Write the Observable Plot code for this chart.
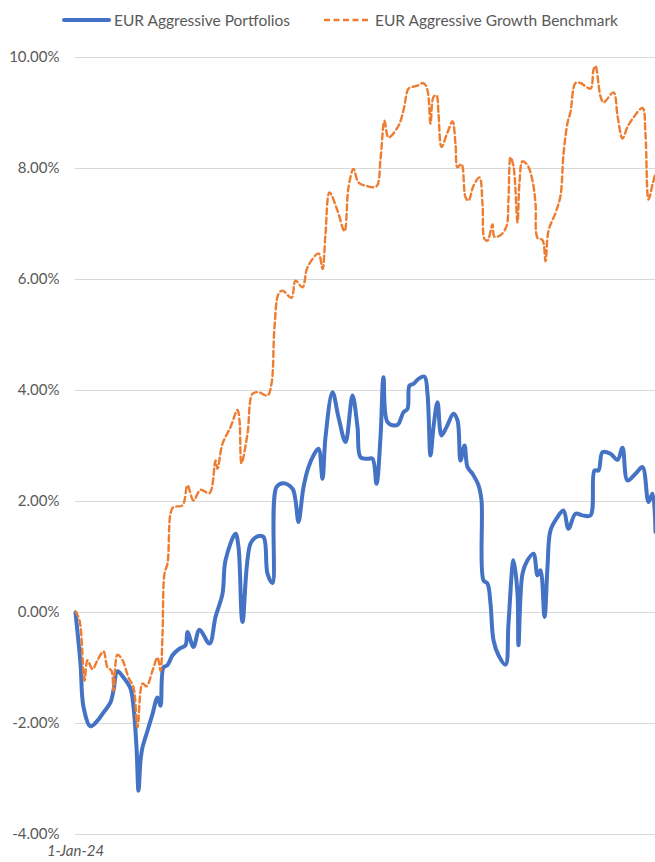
<!DOCTYPE html>
<html><head><meta charset="utf-8">
<script src="https://cdn.jsdelivr.net/npm/d3@7"></script>
<script src="https://cdn.jsdelivr.net/npm/@observablehq/plot@0.6"></script>
<style>
body{margin:0;background:#fff;font-family:Lato,"Open Sans",sans-serif;}
#legend{height:40px;position:relative;font-size:15.5px;color:#595959;}
.item{position:absolute;top:0;height:40px;display:flex;align-items:center;white-space:nowrap;}
.item svg{margin-right:3px;}
</style></head><body>
<div id="legend"></div>
<div id="chart"></div>
<script>
const startDate = "2024-01-01";
const xTickLabels = ["1-Jan-24"];
const yTicks = [-4, -2, 0, 2, 4, 6, 8, 10];
const seriesNames = ["EUR Aggressive Portfolios", "EUR Aggressive Growth Benchmark"];
const seriesColors = ["#4472C4", "#ED7D31"];
const lastDay = 580;

// days since 1-Jan-24, cumulative return (%)
const portfolioDays = [0,5,8,15,22,28,35,38,42,48,55,58,61,63,65,67,72,77,82,85,88,92,97,104,110,112,118,124,134,140,147,150,160,163,167,175,182,188,192,197,201,208,217,220,223,228,233,238,243,247,250,257,263,270,277,282,285,292,297,301,305,308,312,320,323,328,332,334,338,343,349,352,355,358,362,366,371,378,382,385,389,392,397,403,406,408,412,415,418,423,430,433,438,442,443,447,452,458,462,465,469,472,475,482,488,493,500,507,515,519,523,527,535,542,547,552,560,567,573,577,580];
const portfolioValues = [0.00,-0.92,-1.70,-2.05,-1.95,-1.80,-1.62,-1.40,-1.06,-1.17,-1.37,-1.70,-2.43,-3.21,-2.67,-2.43,-2.13,-1.83,-1.53,-1.68,-0.99,-0.95,-0.77,-0.65,-0.59,-0.35,-0.62,-0.31,-0.56,-0.08,0.34,0.94,1.42,1.18,-0.17,1.24,1.37,1.36,0.70,0.53,2.26,2.33,2.23,2.02,1.63,2.26,2.62,2.83,2.95,2.41,3.16,3.97,3.52,3.07,3.91,3.34,2.80,2.77,2.77,2.32,3.16,4.24,3.43,3.37,3.40,3.61,3.67,4.09,4.12,4.21,4.25,3.94,2.83,3.34,3.79,3.19,3.34,3.58,3.46,2.74,3.01,2.62,2.50,2.29,2.02,0.58,0.52,0.16,-0.50,-0.77,-0.94,-0.20,0.94,0.34,-0.59,0.70,0.94,1.06,0.67,0.76,-0.08,0.82,1.48,1.72,1.84,1.51,1.78,1.75,1.75,2.56,2.56,2.89,2.86,2.75,2.97,2.38,2.50,2.62,1.99,2.14,1.45];

const benchmarkDays = [0,4,9,12,17,22,28,32,36,38,42,47,53,58,62,67,71,77,82,85,87,89,92,95,98,107,112,118,125,134,140,142,147,155,162,164,166,172,177,183,192,196,199,203,207,216,220,227,232,243,247,250,254,262,269,273,278,283,292,301,305,309,313,323,328,333,337,343,348,352,355,358,361,363,366,372,377,380,382,386,390,393,398,404,407,409,412,417,419,425,431,433,435,438,442,444,447,452,457,460,462,467,470,473,480,485,488,492,495,500,505,515,518,520,525,528,538,542,547,552,558,567,570,573,577,580];
const benchmarkValues = [0.02,-0.14,-1.23,-0.86,-1.02,-0.86,-0.70,-0.99,-1.05,-1.41,-0.76,-0.86,-1.17,-1.35,-2.07,-1.28,-1.33,-1.05,-0.81,-1.05,-0.40,0.70,0.88,1.78,1.90,1.93,2.29,2.02,2.21,2.15,2.74,2.59,3.04,3.34,3.65,3.46,2.69,3.22,3.94,3.97,3.91,4.12,5.14,5.74,5.80,5.67,5.98,5.86,6.22,6.47,6.19,6.82,7.57,7.24,6.87,7.66,7.99,7.75,7.68,7.68,8.17,8.86,8.56,8.77,9.05,9.44,9.47,9.50,9.54,9.41,8.81,9.29,9.32,8.99,8.39,8.65,8.85,8.44,8.02,8.08,7.48,7.42,7.69,7.84,7.36,6.73,6.70,6.99,6.77,6.80,6.96,7.45,8.20,8.04,7.03,7.75,8.13,8.06,7.78,7.37,6.75,6.71,6.33,6.88,7.20,7.51,8.26,8.82,9.02,9.54,9.54,9.44,9.78,9.85,9.30,9.19,9.37,8.95,8.54,8.75,8.92,9.09,8.61,7.44,7.71,7.92];

const start = new Date(startDate);
const toRows = (days, vals) => days.map((d, i) => ({date: d3.utcDay.offset(start, d), value: vals[i]}));
const portfolio = toRows(portfolioDays, portfolioValues);
const benchmark = toRows(benchmarkDays, benchmarkValues);

// legend
const legend = document.getElementById("legend");
const legendLeft = [62, 323];
seriesNames.forEach((name, i) => {
  const item = document.createElement("div");
  item.className = "item";
  item.style.left = legendLeft[i] + "px";
  const dash = i === 1 ? 'stroke-dasharray="6,3.5"' : '';
  const sw = i === 1 ? 2.4 : 4;
  item.innerHTML = `<svg width="49" height="8"><line x1="${i===1?1:2}" y1="4" x2="${i===1?48:47}" y2="4" stroke="${seriesColors[i]}" stroke-width="${sw}" ${dash} stroke-linecap="${i===1?'butt':'round'}"/></svg><span>${name}</span>`;
  legend.appendChild(item);
});

const chart = Plot.plot({
  width: 655,
  height: 822,
  marginLeft: 75,
  marginRight: 0,
  marginTop: 17,
  marginBottom: 28,
  style: {fontFamily: "Lato, 'Open Sans', sans-serif", fontSize: "15px", color: "#595959", background: "white", overflow: "visible"},
  x: {type: "utc", domain: [start, d3.utcDay.offset(start, lastDay)]},
  y: {domain: [-4, 10]},
  marks: [
    Plot.gridY(yTicks, {stroke: "#d9d9d9", strokeOpacity: 1, strokeWidth: 1}),
    Plot.axisY(yTicks, {tickSize: 0, tickPadding: 16, tickFormat: d => d.toFixed(2) + "%", label: null, fill: "#595959"}),
    Plot.axisX([start], {tickSize: 0, tickPadding: 11, tickFormat: (d, i) => xTickLabels[i], label: null, fontStyle: "italic", fill: "#595959"}),
    Plot.line(portfolio, {x: "date", y: "value", stroke: seriesColors[0], strokeWidth: 4, curve: "catmull-rom"}),
    Plot.line(benchmark, {x: "date", y: "value", stroke: seriesColors[1], strokeWidth: 2.4, strokeDasharray: "6,3.5", curve: "catmull-rom"})
  ]
});
document.getElementById("chart").appendChild(chart);
</script>
</body></html>
